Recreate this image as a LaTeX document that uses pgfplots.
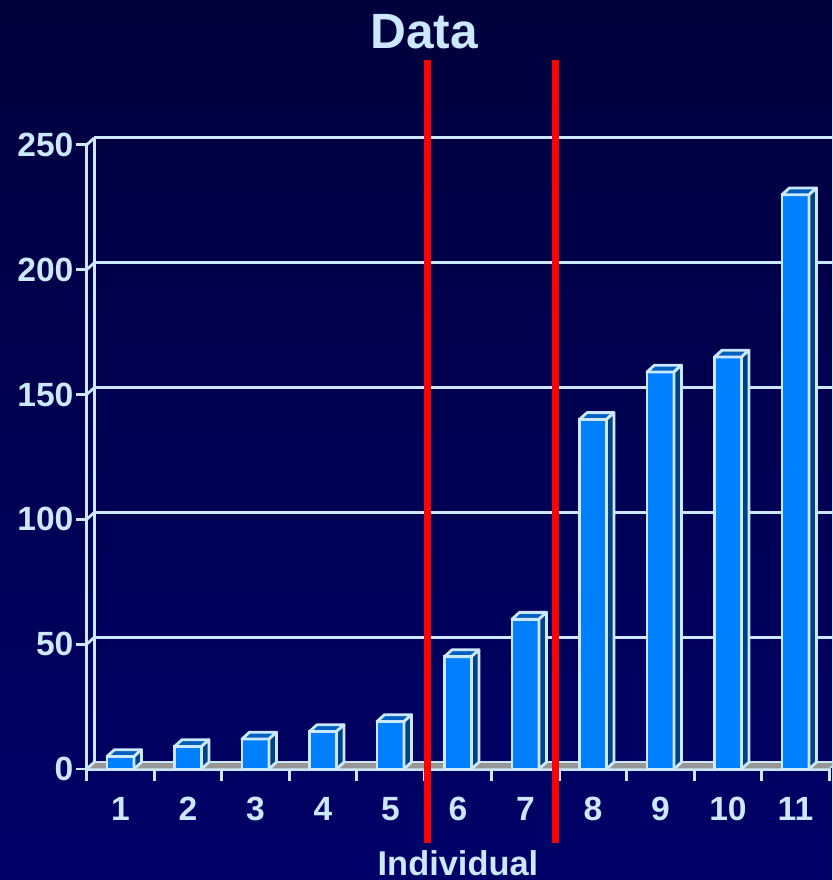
\documentclass[border=0pt]{standalone}
\usepackage{pgfplots}
\usepackage{pgfplotstable}
\pgfplotsset{compat=1.18}
\usepackage{fontspec}
\setmainfont{Liberation Sans}

\definecolor{bgtop}{RGB}{0,0,60}
\definecolor{bgbot}{RGB}{0,0,104}
\definecolor{pale}{RGB}{204,232,255}
\definecolor{barfront}{RGB}{0,128,255}
\definecolor{bartop}{RGB}{0,96,192}
\definecolor{barside}{RGB}{0,66,132}
\definecolor{floorgray}{RGB}{150,150,150}

% depth of the 3-D effect
\newcommand\dx{3.75pt}
\newcommand\dy{3.4pt}
\newcommand\hw{6.75pt}

\pgfdeclareplotmark{blank3d}{}

\pgfplotstableread{
ind val
1 5
2 9
3 12
4 15
5 19
6 45
7 60
8 140
9 159
10 165
11 230
}\datatable

\begin{document}
\begin{tikzpicture}
\useasboundingbox (0,0) rectangle (416pt,440pt);
\shade[top color=bgtop,bottom color=bgbot] (0,0) rectangle (416pt,440pt);
\clip (0,0) rectangle (416pt,440pt);
\node[anchor=base, text=pale, font=\bfseries\fontsize{24.8}{28}\selectfont] at (212pt,415.5pt) {Data};
\begin{axis}[
  at={(43.35pt,55.5pt)}, anchor=south west,
  scale only axis, width=371.25pt, height=312.1pt,
  xmin=0.5, xmax=11.5, ymin=0, ymax=250,
  axis lines*=left,
  axis line style={draw=pale, line width=1.5pt},
  xtick={1,...,11}, ytick={0,50,...,250},
  minor xtick={0.5,1.5,...,11.5},
  tick align=outside,
  major tick length=5.5pt, minor tick length=6pt,
  tick style={draw=pale, line width=1.4pt},
  major x tick style={draw=none},
  ymajorgrids,
  major grid style={draw=pale, line width=1.5pt, xshift=\dx, yshift=\dy},
  /pgf/number format/assume math mode=true,
  tick label style={text=pale, font=\bfseries\fontsize{16.8}{19}\selectfont},
  yticklabel style={xshift=2.4pt},
  xticklabel style={text height=12.3pt, text depth=0pt, yshift=-4.6pt},
  xlabel={Individual},
  xlabel style={at={(axis description cs:0.5,0)}, anchor=base, yshift=-53pt,
    text=pale, font=\bfseries\fontsize{17.2}{20}\selectfont},
  clip=false,
]
% floor strip and left wall
\fill[floorgray, draw=pale, line width=0.6pt] (axis cs:0.5,0) -- (axis cs:11.5,0)
  -- ([shift={(\dx,\dy)}]axis cs:11.5,0) -- ([shift={(\dx,\dy)}]axis cs:0.5,0) -- cycle;
\draw[pale, line width=1.5pt] ([shift={(\dx,\dy)}]axis cs:0.5,0) -- ([shift={(\dx,\dy)}]axis cs:0.5,250);
\pgfplotsinvokeforeach{0,50,...,250}{
  \draw[pale, line width=1.4pt] (axis cs:0.5,#1) -- ++(\dx,\dy);
}
% front faces
\addplot[ybar, bar width=13.5pt, fill=barfront, draw=pale, line width=1.4pt]
  table[x=ind, y=val] {\datatable};
% top and side faces
\addplot[scatter, only marks, mark=blank3d,
  visualization depends on={\thisrow{val} \as \barval},
  scatter/@pre marker code/.code={
    \filldraw[fill=bartop, draw=pale, line width=1.4pt, line join=round]
      (-\hw,0pt) -- (\hw,0pt) -- ++(\dx,\dy) -- ([xshift=\dx]-\hw,\dy) -- cycle;
    \filldraw[fill=barside, draw=pale, line width=1.4pt, line join=round]
      (\hw,0pt) -- ++(\dx,\dy) -- ([xshift=\dx,yshift=\dy]\hw,-\barval*1.2485pt)
      -- (\hw,-\barval*1.2485pt) -- cycle;
  },
  scatter/@post marker code/.code={}]
  table[x=ind, y=val] {\datatable};
% group boundaries
\draw[red, line width=3.5pt] (axis cs:5.549,-29.6) -- (axis cs:5.549,283.9);
\draw[red, line width=3.5pt] (axis cs:7.448,-29.6) -- (axis cs:7.448,283.9);
\end{axis}
\end{tikzpicture}
\end{document}
